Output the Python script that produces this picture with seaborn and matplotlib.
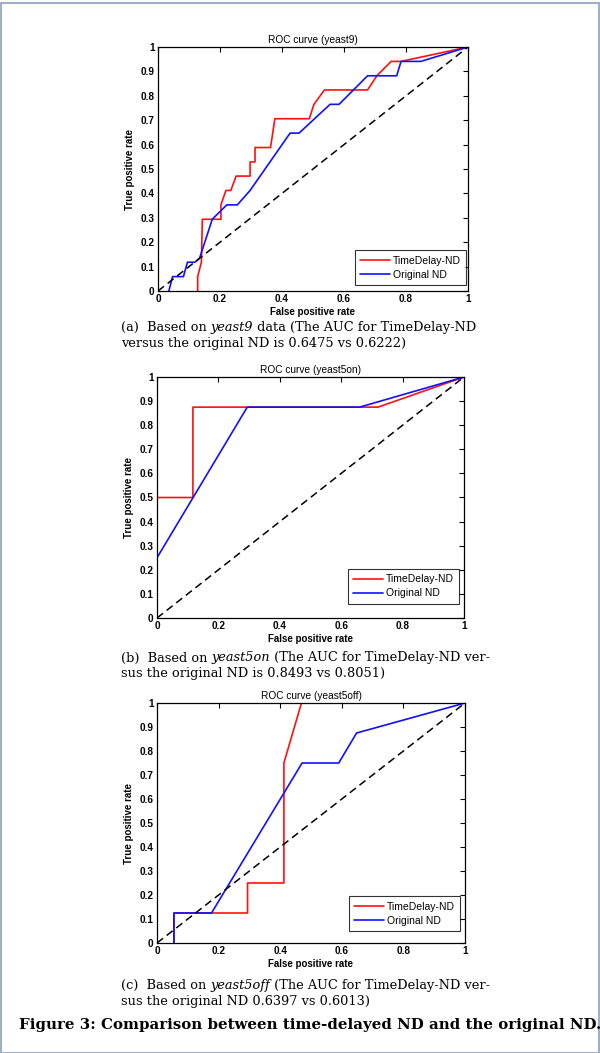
"""
ROC comparison figure: TimeDelay-ND vs original ND on three yeast data sets.
"""

import matplotlib
matplotlib.use("Agg")
import matplotlib.pyplot as plt
from matplotlib.patches import Rectangle
from matplotlib.ticker import FuncFormatter, MultipleLocator
import pandas as pd
import seaborn as sns

# yeast9 (17 positives, so TPR steps of 1/17)
yeast9_td_fpr = [0.128, 0.128, 0.140, 0.143, 0.203, 0.203, 0.219, 0.235, 0.252, 0.297,
                 0.297, 0.313, 0.313, 0.363, 0.377, 0.488, 0.503, 0.537, 0.676, 0.706,
                 0.752, 0.784, 1.0]
yeast9_td_tpr = [0.0, 0.059, 0.118, 0.294, 0.294, 0.353, 0.412, 0.412, 0.471, 0.471,
                 0.529, 0.529, 0.588, 0.588, 0.706, 0.706, 0.765, 0.824, 0.824, 0.882,
                 0.941, 0.941, 1.0]
yeast9_nd_fpr = [0.035, 0.047, 0.082, 0.095, 0.119, 0.134, 0.175, 0.222, 0.256, 0.297,
                 0.426, 0.455, 0.555, 0.584, 0.676, 0.770, 0.784, 0.848, 1.0]
yeast9_nd_tpr = [0.0, 0.059, 0.059, 0.118, 0.118, 0.134, 0.294, 0.353, 0.353, 0.412,
                 0.647, 0.647, 0.765, 0.765, 0.882, 0.882, 0.941, 0.941, 1.0]

# yeast5on
yeast5on_td_fpr = [0.0, 0.117, 0.117, 0.72, 1.0]
yeast5on_td_tpr = [0.5, 0.5, 0.875, 0.875, 1.0]
yeast5on_nd_fpr = [0.0, 0.294, 0.66, 1.0]
yeast5on_nd_tpr = [0.25, 0.875, 0.875, 1.0]

# yeast5off
yeast5off_td_fpr = [0.055, 0.055, 0.294, 0.294, 0.412, 0.412, 0.469]
yeast5off_td_tpr = [0.0, 0.125, 0.125, 0.25, 0.25, 0.75, 1.0]
yeast5off_nd_fpr = [0.055, 0.055, 0.177, 0.471, 0.590, 0.648, 1.0]
yeast5off_nd_tpr = [0.0, 0.125, 0.125, 0.75, 0.75, 0.875, 1.0]

panel_titles = ["ROC curve (yeast9)", "ROC curve (yeast5on)", "ROC curve (yeast5off)"]
series_names = ["TimeDelay-ND", "Original ND"]

captions = [
    ("(a)  Based on ", "yeast9", " data (The AUC for TimeDelay-ND",
     "versus the original ND is 0.6475 vs 0.6222)"),
    ("(b)  Based on ", "yeast5on", " (The AUC for TimeDelay-ND ver-",
     "sus the original ND is 0.8493 vs 0.8051)"),
    ("(c)  Based on ", "yeast5off", " (The AUC for TimeDelay-ND ver-",
     "sus the original ND 0.6397 vs 0.6013)"),
]
figure_caption = "Figure 3: Comparison between time-delayed ND and the original ND."

W, H = 600, 1053
# axes boxes in pixels: left, top, right, bottom
axes_px = [(158, 47, 468, 291), (157, 377, 464, 618), (157, 703, 465, 943)]
# lower-right corner of each legend, in axes fraction
legend_anchor = [(0.995, 0.025), (0.985, 0.06), (0.985, 0.05)]
caption_y = [327, 658, 985]


def px_rect(left, top, right, bottom):
    """Convert a pixel box to a figure-fraction rect."""
    return [left / W, 1 - bottom / H, (right - left) / W, (bottom - top) / H]


def draw_roc(ax, title, td, nd, anchor):
    """Draw one MATLAB-style ROC panel."""
    df_td = pd.DataFrame({"fpr": td[0], "tpr": td[1]})
    df_nd = pd.DataFrame({"fpr": nd[0], "tpr": nd[1]})
    sns.lineplot(data=df_td, x="fpr", y="tpr", sort=False, estimator=None,
                 color="#ff1010", lw=1.2, label=series_names[0], ax=ax)
    sns.lineplot(data=df_nd, x="fpr", y="tpr", sort=False, estimator=None,
                 color="#1010ff", lw=1.2, label=series_names[1], ax=ax)
    ax.plot([0, 1], [0, 1], color="black", lw=1.1, ls=(0, (5, 3)))

    ax.set_xlim(0, 1)
    ax.set_ylim(0, 1)
    ax.xaxis.set_major_locator(MultipleLocator(0.2))
    ax.yaxis.set_major_locator(MultipleLocator(0.1))
    fmt = FuncFormatter(lambda v, _: f"{v:g}")
    ax.xaxis.set_major_formatter(fmt)
    ax.yaxis.set_major_formatter(fmt)
    ax.tick_params(direction="in", length=3.5, width=0.8, top=True, right=True,
                   labelsize=7.2, pad=2.5, colors="black")
    for lab in ax.get_xticklabels() + ax.get_yticklabels():
        lab.set_fontweight("bold")
    for sp in ax.spines.values():
        sp.set_visible(True)
        sp.set_color("black")
        sp.set_linewidth(0.9)

    ax.set_title(title, fontsize=7.3, pad=3)
    ax.set_xlabel("False positive rate", fontsize=7.0, fontweight="bold", labelpad=1.5)
    ax.set_ylabel("True positive rate", fontsize=7.0, fontweight="bold", labelpad=4)

    leg = ax.legend(loc="lower right", bbox_to_anchor=anchor, borderaxespad=0,
                    fontsize=7.5, frameon=True, fancybox=False,
                    handlelength=2.9, handletextpad=0.3, borderpad=0.5,
                    labelspacing=0.4)
    leg.get_frame().set_edgecolor("black")
    leg.get_frame().set_linewidth(0.8)


def main():
    sns.set_theme(style="white")
    plt.rcParams["font.family"] = ["Liberation Sans", "DejaVu Sans"]
    plt.rcParams["text.color"] = "black"
    plt.rcParams["axes.labelcolor"] = "black"

    fig = plt.figure(figsize=(6.0, 10.53), dpi=100)
    fig.patch.set_facecolor("white")

    data = [
        ((yeast9_td_fpr, yeast9_td_tpr), (yeast9_nd_fpr, yeast9_nd_tpr)),
        ((yeast5on_td_fpr, yeast5on_td_tpr), (yeast5on_nd_fpr, yeast5on_nd_tpr)),
        ((yeast5off_td_fpr, yeast5off_td_tpr), (yeast5off_nd_fpr, yeast5off_nd_tpr)),
    ]
    for i, (td, nd) in enumerate(data):
        ax = fig.add_axes(px_rect(*axes_px[i]))
        draw_roc(ax, panel_titles[i], td, nd, legend_anchor[i])

    # captions in serif, with the data set name in italics
    serif = ["DejaVu Serif"]
    fs = 9.3
    for (pre, name, post, line2), y in zip(captions, caption_y):
        t = fig.text(121 / W, 1 - y / H, pre, family=serif, fontsize=fs, va="center")
        fig.canvas.draw()
        bb = t.get_window_extent()
        t2 = fig.text(bb.x1 / W, 1 - y / H, name, family=serif, fontsize=fs,
                      style="italic", va="center")
        fig.canvas.draw()
        bb2 = t2.get_window_extent()
        fig.text(bb2.x1 / W, 1 - y / H, post, family=serif, fontsize=fs, va="center")
        fig.text(121 / W, 1 - (y + 16) / H, line2, family=serif, fontsize=fs, va="center")

    fig.text(19 / W, 1 - 1025 / H, figure_caption, family=serif, fontsize=10.8,
             fontweight="bold", va="center")

    # thin frame around the whole page
    fig.patches.append(Rectangle((0.5 / W, 0.5 / H), 1 - 2 / W, 1 - 3 / H,
                                 transform=fig.transFigure, fill=False,
                                 edgecolor="#9fb0c6", lw=1.5))

    fig.savefig("out.png", dpi=100)
    plt.close(fig)


if __name__ == "__main__":
    main()
